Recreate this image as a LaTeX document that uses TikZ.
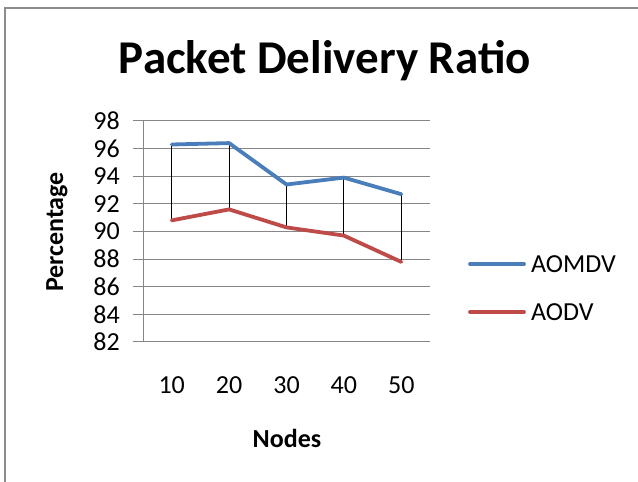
\documentclass[tikz,border=0pt]{standalone}
\usepackage{fontspec}
\setmainfont{Carlito}
\usetikzlibrary{positioning}

\definecolor{seriesblue}{HTML}{4A7EBB}
\definecolor{seriesred}{HTML}{BE4B48}
\definecolor{gridgray}{HTML}{868686}
\definecolor{framegray}{HTML}{8C8C8C}

\begin{document}
\begin{tikzpicture} [x=1pt, y=1pt,
    grid/.style={draw=gridgray, line width=1pt},
    ylab/.style={anchor=east, inner sep=0pt, font=\fontsize{26}{26}\selectfont},
    xlab/.style={inner sep=0pt, font=\fontsize{26}{26}\selectfont},
    series/.style={line width=3.8pt, line join=round, line cap=round},
    drop/.style={draw=black, line width=0.9pt}]
  \useasboundingbox (0,0) rectangle (638,482);
  \draw[framegray, line width=2pt] (5,0) -- (5,474) -- (638,474);

  \node (title) at (325,421) {\fontsize{47}{47}\selectfont\bfseries Packet Delivery Ratio};

  % grid and value axis
  \draw[grid] (143,140) -- (430,140); \draw[grid] (143,167.6) -- (430,167.6);
  \draw[grid] (143,195.3) -- (430,195.3); \draw[grid] (143,222.9) -- (430,222.9);
  \draw[grid] (143,250.5) -- (430,250.5); \draw[grid] (143,278.1) -- (430,278.1);
  \draw[grid] (143,305.8) -- (430,305.8); \draw[grid] (143,333.4) -- (430,333.4);
  \draw[grid] (143,361) -- (430,361);
  \draw[grid] (143,140) -- (143,361);
  \draw[grid] (133,140) -- (143,140); \draw[grid] (133,167.6) -- (143,167.6);
  \draw[grid] (133,195.3) -- (143,195.3); \draw[grid] (133,222.9) -- (143,222.9);
  \draw[grid] (133,250.5) -- (143,250.5); \draw[grid] (133,278.1) -- (143,278.1);
  \draw[grid] (133,305.8) -- (143,305.8); \draw[grid] (133,333.4) -- (143,333.4);
  \draw[grid] (133,361) -- (143,361);

  \node[ylab] (y82) at (120,140) {82};   \node[ylab] (y84) at (120,167.6) {84};
  \node[ylab] (y86) at (120,195.3) {86}; \node[ylab] (y88) at (120,222.9) {88};
  \node[ylab] (y90) at (120,250.5) {90}; \node[ylab] (y92) at (120,278.1) {92};
  \node[ylab] (y94) at (120,305.8) {94}; \node[ylab] (y96) at (120,333.4) {96};
  \node[ylab] (y98) at (120,361) {98};

  \node[xlab] (x10) at (171.7,97) {10}; \node[xlab] (x20) at (229.1,97) {20};
  \node[xlab] (x30) at (286.5,97) {30}; \node[xlab] (x40) at (343.9,97) {40};
  \node[xlab] (x50) at (401.3,97) {50};

  \node[font=\fontsize{26}{26}\selectfont\bfseries] (xtitle) at (287,44) {Nodes};
  \node[font=\fontsize{26}{26}\selectfont\bfseries, rotate=90] (ytitle) at (57,250) {Percentage};

  % data points
  \coordinate (m1) at (171.7,337.5); \coordinate (a1) at (171.7,261.6);
  \coordinate (m2) at (229.1,338.9); \coordinate (a2) at (229.1,272.6);
  \coordinate (m3) at (286.5,297.5); \coordinate (a3) at (286.5,254.6);
  \coordinate (m4) at (343.9,304.4); \coordinate (a4) at (343.9,246.4);
  \coordinate (m5) at (401.3,287.8); \coordinate (a5) at (401.3,220.1);

  \draw[drop] (m1) -- (a1); \draw[drop] (m2) -- (a2); \draw[drop] (m3) -- (a3);
  \draw[drop] (m4) -- (a4); \draw[drop] (m5) -- (a5);

  \draw[series, seriesblue] (m1) -- (m2) -- (m3) -- (m4) -- (m5);
  \draw[series, seriesred] (a1) -- (a2) -- (a3) -- (a4) -- (a5);

  % legend
  \coordinate (lm) at (470,218); \node[xlab, anchor=west] (laomdv) at (531,218) {AOMDV};
  \coordinate (la) at (470,170); \node[xlab, anchor=west] (laodv) at (531,170) {AODV};
  \draw[series, seriesblue, shorten >=7pt] (lm) -- (laomdv.west);
  \draw[series, seriesred, shorten >=7pt] (la) -- (laodv.west);
\end{tikzpicture}
\end{document}
